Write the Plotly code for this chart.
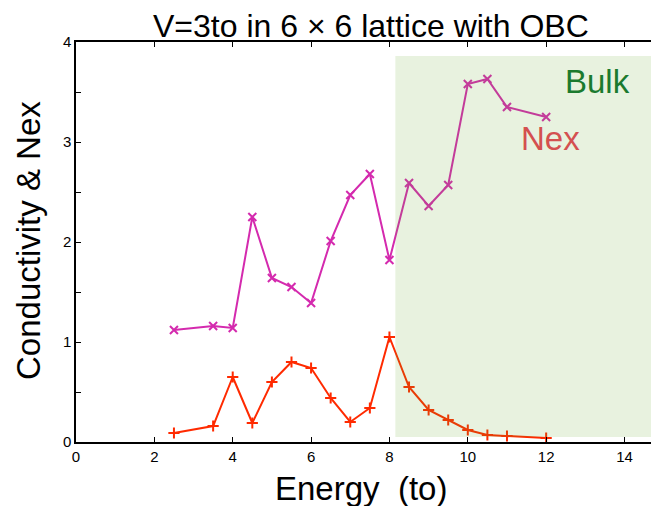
import plotly.graph_objects as go

energy_nex = [2.5, 3.5, 4, 4.5, 5, 5.5, 6, 6.5, 7, 7.5, 8, 8.5, 9, 9.5, 10, 10.5, 11, 12]
nex = [1.12, 1.16, 1.14, 2.25, 1.64, 1.55, 1.39, 2.01, 2.47, 2.68, 1.82, 2.59, 2.36, 2.57, 3.58, 3.63, 3.35, 3.25]

energy_cond = [2.5, 3.5, 4, 4.5, 5, 5.5, 6, 6.5, 7, 7.5, 8, 8.5, 9, 9.5, 10, 10.5, 11, 12]
conductivity = [0.09, 0.16, 0.65, 0.19, 0.60, 0.80, 0.74, 0.44, 0.20, 0.34, 1.05, 0.55, 0.32, 0.22, 0.12, 0.07, 0.06, 0.04]

bulk_range = [8.15, 14.78]
bulk_y = [0.05, 3.86]

x_ticks = [0, 2, 4, 6, 8, 10, 12, 14]
y_ticks = [0, 1, 2, 3, 4]

FONT = "Liberation Sans, Arial, Helvetica, sans-serif"
W, H = 659, 506
OFF = 8  # page body margin offset
# plot area in screen pixels
SL, SR, ST, SB = 76, 659, 42, 442
L, T = SL - OFF, ST - OFF
R = W - (SR - OFF)
B = H - (SB - OFF)
PW, PH = W - L - R, H - T - B


def px(xs):
    return (xs - OFF - L) / PW


def py(ys):
    return 1 - (ys - OFF - T) / PH


fig = go.Figure()
fig.add_trace(go.Scatter(x=energy_nex, y=nex, mode="lines+markers",
                         line=dict(color="#d42aae", width=2),
                         marker=dict(symbol="x-thin", size=8, line=dict(color="#d42aae", width=2)),
                         showlegend=False))
fig.add_trace(go.Scatter(x=energy_cond, y=conductivity, mode="lines+markers",
                         line=dict(color="#ff2a00", width=2),
                         marker=dict(symbol="cross-thin", size=8, line=dict(color="#ff2a00", width=2)),
                         showlegend=False))

fig.add_shape(type="rect", x0=bulk_range[0], x1=bulk_range[1], y0=bulk_y[0], y1=bulk_y[1],
              xref="x", yref="y", fillcolor="rgba(100,170,40,0.15)", line=dict(width=0), layer="above")

fig.add_annotation(x=px(597), y=py(81), xref="paper", yref="paper", text="Bulk", showarrow=False,
                   xanchor="center", yanchor="middle",
                   font=dict(size=33, color="#1b7a2e", family=FONT))
fig.add_annotation(x=px(550), y=py(139), xref="paper", yref="paper", text="Nex", showarrow=False,
                   xanchor="center", yanchor="middle",
                   font=dict(size=33, color="#d45050", family=FONT))

# titles
fig.add_annotation(x=px(371), y=py(26), xref="paper", yref="paper",
                   text="V=3to in 6 \u00d7 6 lattice with OBC", showarrow=False,
                   xanchor="center", yanchor="middle",
                   font=dict(size=32, color="black", family=FONT))
fig.add_annotation(x=px(361), y=py(488), xref="paper", yref="paper",
                   text="Energy  (to)", showarrow=False, xanchor="center", yanchor="middle",
                   font=dict(size=33, color="black", family=FONT))
fig.add_annotation(x=px(28), y=py(241), xref="paper", yref="paper",
                   text="Conductivity &amp; Nex", showarrow=False, textangle=-90,
                   xanchor="center", yanchor="middle",
                   font=dict(size=33, color="black", family=FONT))

axis_common = dict(showline=True, linecolor="black", linewidth=1.5, mirror="ticks",
                   ticks="inside", ticklen=5, tickcolor="black", tickwidth=1,
                   showgrid=False, zeroline=False, automargin=False,
                   tickfont=dict(size=15, color="black", family=FONT))

fig.update_layout(
    width=W, height=H,
    margin=dict(l=L, r=R, t=T, b=B, autoexpand=False),
    paper_bgcolor="white", plot_bgcolor="white",
    xaxis=dict(range=[0, 14.88], tickvals=x_ticks, **axis_common),
    yaxis=dict(range=[0, 4], tickvals=y_ticks, **axis_common,
               minor=dict(dtick=0.5, ticks="inside", ticklen=5, tickcolor="black")),
)

fig.write_html("out.html")
